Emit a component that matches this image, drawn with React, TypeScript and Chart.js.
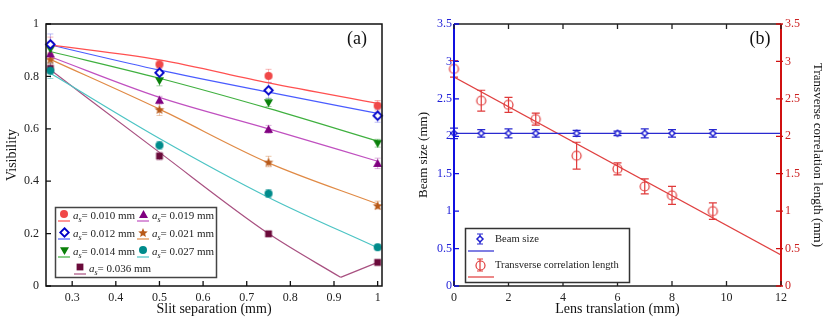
import React, { useEffect, useRef } from "react";
import { Chart, registerables } from "chart.js";
Chart.register(...registerables);

const FONT = "'Liberation Serif', 'Times New Roman', serif";

// ---------- Panel (a) data ----------
const slitX = [0.25, 0.5, 0.75, 1];
const vis010 = [0.92, 0.846, 0.802, 0.688];
const vis012 = [0.922, 0.814, 0.747, 0.65];
const vis014 = [0.905, 0.784, 0.7, 0.545];
const vis019 = [0.886, 0.709, 0.598, 0.468];
const vis021 = [0.868, 0.676, 0.475, 0.309];
const vis027 = [0.822, 0.537, 0.353, 0.148];
const vis036 = [0.831, 0.496, 0.199, 0.09];

const err010 = [0.03, 0.015, 0.025, 0.02];
const err012 = [0.04, 0.02, 0.03, 0.025];
const err014 = [0.02, 0.02, 0.015, 0.015];
const err019 = [0.02, 0.015, 0.015, 0.02];
const err021 = [0.02, 0.025, 0.02, 0.015];
const err027 = [0.03, 0.015, 0.015, 0.01];
const err036 = [0.02, 0.015, 0.01, 0.01];

const fitX = [0.25, 0.5, 0.75, 1];
const fit010 = [0.92, 0.863, 0.775, 0.697];
const fit012 = [0.92, 0.824, 0.74, 0.659];
const fit014 = [0.895, 0.793, 0.678, 0.553];
const fit019 = [0.875, 0.72, 0.6, 0.476];
const fit021 = [0.865, 0.675, 0.47, 0.313];
const fit027 = [0.812, 0.563, 0.338, 0.146];
// the 0.036 mm fit has a sharp minimum: two pieces
const fitX036a = [0.25, 0.5, 0.75, 0.915];
const fit036a = [0.825, 0.51, 0.2, 0.033];
const fitX036b = [0.915, 1];
const fit036b = [0.033, 0.09];

const asLabels = ["0.010", "0.012", "0.014", "0.019", "0.021", "0.027", "0.036"];

// ---------- Panel (b) data ----------
const lensX = [0, 1, 2, 3, 4.5, 6, 7, 8, 9.5];
const beamSize = [2.04, 2.04, 2.04, 2.04, 2.04, 2.04, 2.04, 2.04, 2.04];
const beamErr = [0.07, 0.05, 0.06, 0.05, 0.04, 0.03, 0.06, 0.05, 0.05];
const corrLen = [2.9, 2.475, 2.42, 2.23, 1.74, 1.565, 1.33, 1.21, 1.0];
const corrErr = [0.11, 0.14, 0.1, 0.08, 0.18, 0.08, 0.1, 0.12, 0.11];
const beamFitX = [0, 12];
const beamFit = [2.04, 2.04];
const corrFitX = [0, 12];
const corrFit = [2.79, 0.415];

// ---------- helpers ----------
function makeMarker(kind: string, fill: string | null, stroke: string | null, size: number, lw = 1): HTMLCanvasElement {
  const s = Math.ceil(size + 4);
  const c = document.createElement("canvas");
  c.width = s;
  c.height = s;
  const g = c.getContext("2d")!;
  const cx = s / 2, cy = s / 2, r = size / 2;
  g.beginPath();
  if (kind === "circle") g.arc(cx, cy, r, 0, Math.PI * 2);
  else if (kind === "diamond") {
    g.moveTo(cx, cy - r); g.lineTo(cx + r, cy); g.lineTo(cx, cy + r); g.lineTo(cx - r, cy); g.closePath();
  } else if (kind === "triUp") {
    g.moveTo(cx, cy - r); g.lineTo(cx + r, cy + r * 0.75); g.lineTo(cx - r, cy + r * 0.75); g.closePath();
  } else if (kind === "triDown") {
    g.moveTo(cx, cy + r); g.lineTo(cx + r, cy - r * 0.75); g.lineTo(cx - r, cy - r * 0.75); g.closePath();
  } else if (kind === "square") {
    g.rect(cx - r * 0.85, cy - r * 0.85, r * 1.7, r * 1.7);
  } else if (kind === "star") {
    for (let k = 0; k < 10; k++) {
      const ang = -Math.PI / 2 + (k * Math.PI) / 5;
      const rr = k % 2 === 0 ? r : r * 0.45;
      const px = cx + rr * Math.cos(ang), py = cy + 1 + rr * Math.sin(ang);
      if (k === 0) g.moveTo(px, py); else g.lineTo(px, py);
    }
    g.closePath();
  }
  if (fill) { g.fillStyle = fill; g.fill(); }
  if (stroke) { g.lineWidth = lw; g.strokeStyle = stroke; g.stroke(); }
  return c;
}

const fmt = (v: any) => String(Number(Number(v).toFixed(2)));

const errorBarPlugin = {
  id: "errbars",
  beforeDatasetsDraw(chart: any) {
    const ctx = chart.ctx;
    chart.data.datasets.forEach((ds: any, i: number) => {
      if (!ds.errors) return;
      const meta = chart.getDatasetMeta(i);
      const xs = chart.scales[meta.xAxisID];
      const ys = chart.scales[meta.yAxisID];
      ctx.save();
      ctx.strokeStyle = ds.errorColor;
      ctx.lineWidth = ds.errorWidth || 1;
      const cap = ds.errorCap || 3;
      ds.data.forEach((p: any, j: number) => {
        const e = ds.errors[j];
        const x = xs.getPixelForValue(p.x);
        const y1 = ys.getPixelForValue(p.y - e);
        const y2 = ys.getPixelForValue(p.y + e);
        ctx.beginPath();
        ctx.moveTo(x, y1); ctx.lineTo(x, y2);
        ctx.moveTo(x - cap, y1); ctx.lineTo(x + cap, y1);
        ctx.moveTo(x - cap, y2); ctx.lineTo(x + cap, y2);
        ctx.stroke();
      });
      ctx.restore();
    });
  },
};

function drawInwardTicks(ctx: any, scale: any, side: string, area: any, color: string, len = 5, out = 0) {
  ctx.save();
  ctx.strokeStyle = color;
  ctx.lineWidth = 1.3;
  ctx.beginPath();
  scale.ticks.forEach((t: any) => {
    const p = scale.getPixelForValue(t.value);
    if (side === "bottom") { ctx.moveTo(p, area.bottom + out); ctx.lineTo(p, area.bottom - len); }
    if (side === "top") { ctx.moveTo(p, area.top - out); ctx.lineTo(p, area.top + len); }
    if (side === "left") { ctx.moveTo(area.left - out, p); ctx.lineTo(area.left + len, p); }
    if (side === "right") { ctx.moveTo(area.right + out, p); ctx.lineTo(area.right - len, p); }
  });
  ctx.stroke();
  ctx.restore();
}

function drawAs(ctx: any, x: number, y: number, val: string) {
  ctx.fillStyle = "#222";
  ctx.textAlign = "left";
  ctx.textBaseline = "alphabetic";
  ctx.font = `italic 11px ${FONT}`;
  ctx.fillText("a", x, y + 4);
  let w = ctx.measureText("a").width;
  ctx.font = `italic 8px ${FONT}`;
  ctx.fillText("s", x + w, y + 6.5);
  w += ctx.measureText("s").width;
  ctx.font = `11px ${FONT}`;
  ctx.fillText(`= ${val} mm`, x + w, y + 4);
}

export default function App() {
  const refA = useRef<HTMLCanvasElement>(null);
  const refB = useRef<HTMLCanvasElement>(null);

  useEffect(() => {
    const lineColors = ["#ff5050", "#4a5cff", "#3fb03f", "#c050c0", "#e08a45", "#4cc4c4", "#a85080"];
    const errColors = [
      "rgba(240,90,90,0.45)", "rgba(90,90,230,0.4)", "rgba(60,160,60,0.45)", "rgba(170,60,170,0.4)",
      "rgba(210,130,70,0.45)", "rgba(40,160,160,0.45)", "rgba(150,60,110,0.4)",
    ];
    const markers = [
      makeMarker("circle", "#f04848", null, 8),
      makeMarker("diamond", "#ffffff", "#0000c8", 8.5, 1.8),
      makeMarker("triDown", "#0a800a", null, 9),
      makeMarker("triUp", "#800080", null, 9),
      makeMarker("star", "#b85a1a", null, 10),
      makeMarker("circle", "#008b8b", null, 8),
      makeMarker("square", "#6a0a3a", null, 8),
    ];
    const visData = [vis010, vis012, vis014, vis019, vis021, vis027, vis036];
    const errData = [err010, err012, err014, err019, err021, err027, err036];
    const fitSets: [number[], number[], number][] = [
      [fitX, fit010, 0], [fitX, fit012, 1], [fitX, fit014, 2], [fitX, fit019, 3],
      [fitX, fit021, 4], [fitX, fit027, 5], [fitX036a, fit036a, 6], [fitX036b, fit036b, 6],
    ];

    const dsA: any[] = [];
    fitSets.forEach(([xs, ys, ci]) => {
      dsA.push({
        label: "fit " + asLabels[ci],
        data: xs.map((x, j) => ({ x, y: ys[j] })),
        showLine: true,
        borderColor: lineColors[ci],
        borderWidth: 1.2,
        pointRadius: 0,
        cubicInterpolationMode: "monotone",
        fill: false,
        order: 3,
      });
    });
    visData.forEach((v, i) => {
      dsA.push({
        label: "as = " + asLabels[i],
        data: slitX.map((x, j) => ({ x, y: v[j] })),
        showLine: false,
        pointStyle: markers[i],
        pointRadius: 5,
        errors: errData[i],
        errorColor: errColors[i],
        errorCap: 3,
        clip: false,
        order: i === 0 ? 2 : 1,
      });
    });

    const legendA = {
      id: "legendA",
      afterDraw(chart: any) {
        const ctx = chart.ctx;
        const area = chart.chartArea;
        const xS = chart.scales.x, yS = chart.scales.y;
        ctx.save();
        ctx.strokeStyle = "#111";
        ctx.lineWidth = 1.5;
        ctx.strokeRect(area.left, area.top, area.right - area.left, area.bottom - area.top);
        ctx.restore();
        drawInwardTicks(ctx, xS, "bottom", area, "#111", 5);
        drawInwardTicks(ctx, yS, "left", area, "#111", 5);
        // legend box
        ctx.save();
        ctx.fillStyle = "#fff";
        ctx.fillRect(55.5, 207.5, 161, 70);
        ctx.strokeStyle = "#444";
        ctx.lineWidth = 1.5;
        ctx.strokeRect(55.5, 207.5, 161, 70);
        const pos = [[64, 215], [64, 233], [64, 251], [143, 215], [143, 233], [143, 251], [80, 268]];
        pos.forEach((p, i) => {
          const [mx, my] = p;
          const m = markers[i];
          ctx.drawImage(m, Math.round(mx - m.width / 2), Math.round(my - 1 - m.height / 2));
          ctx.strokeStyle = lineColors[i];
          ctx.lineWidth = 1.2;
          ctx.beginPath();
          ctx.moveTo(mx - 6, my + 6);
          ctx.lineTo(mx + 6, my + 6);
          ctx.stroke();
          drawAs(ctx, mx + 9, my, asLabels[i]);
        });
        ctx.fillStyle = "#111";
        ctx.font = `18px ${FONT}`;
        ctx.textAlign = "center";
        ctx.textBaseline = "middle";
        ctx.fillText("(a)", 357, 39);
        ctx.restore();
      },
    };

    const chartA = new Chart(refA.current!, {
      type: "scatter",
      data: { datasets: dsA },
      options: {
        responsive: false,
        animation: false,
        layout: { padding: { top: 24, right: 33, left: 0, bottom: 0 } },
        plugins: { legend: { display: false }, tooltip: { enabled: false } },
        scales: {
          x: {
            type: "linear",
            min: 0.24,
            max: 1.01,
            grid: { display: false, drawTicks: false },
            border: { display: false },
            ticks: { stepSize: 0.1, includeBounds: false, padding: 5, color: "#222", font: { size: 12, family: FONT }, callback: fmt },
            title: { display: true, text: "Slit separation (mm)", color: "#111", font: { size: 14, family: FONT }, padding: { top: 0, bottom: 8 } },
            afterFit: (s: any) => { s.height = 40; },
          },
          y: {
            type: "linear",
            min: 0,
            max: 1,
            grid: { display: false, drawTicks: false },
            border: { display: false },
            ticks: { stepSize: 0.2, padding: 7, color: "#222", font: { size: 12, family: FONT }, callback: fmt },
            title: { display: true, text: "Visibility", color: "#111", font: { size: 14, family: FONT }, padding: { top: 4, bottom: 0 } },
            afterFit: (s: any) => { s.width = 46; },
          },
        },
      } as any,
      plugins: [errorBarPlugin, legendA],
    });

    // ---------- Panel (b) ----------
    const blueMarker = makeMarker("diamond", "#ffffff", "#2020d0", 6, 1.5);
    const redMarker = makeMarker("circle", null, "#e03a3a", 9, 1.2);
    const dsB: any[] = [
      {
        label: "Beam size fit",
        data: beamFitX.map((x, j) => ({ x, y: beamFit[j] })),
        showLine: true,
        borderColor: "#2a2ad0",
        borderWidth: 1.2,
        pointRadius: 0,
        yAxisID: "y",
        order: 2,
      },
      {
        label: "Transverse fit",
        data: corrFitX.map((x, j) => ({ x, y: corrFit[j] })),
        showLine: true,
        borderColor: "#e04040",
        borderWidth: 1.2,
        pointRadius: 0,
        yAxisID: "y2",
        order: 2,
      },
      {
        label: "Beam size",
        data: lensX.map((x, j) => ({ x, y: beamSize[j] })),
        showLine: false,
        pointStyle: blueMarker,
        pointRadius: 4,
        errors: beamErr,
        errorColor: "#2a2ad0",
        errorWidth: 1.3,
        errorCap: 4,
        yAxisID: "y",
        clip: false,
        order: 1,
      },
      {
        label: "Transverse correlation length",
        data: lensX.map((x, j) => ({ x, y: corrLen[j] })),
        showLine: false,
        pointStyle: redMarker,
        pointRadius: 5,
        errors: corrErr,
        errorColor: "#e03a3a",
        errorWidth: 1.2,
        errorCap: 4,
        yAxisID: "y2",
        clip: false,
        order: 1,
      },
    ];

    const legendB = {
      id: "legendB",
      afterDraw(chart: any) {
        const ctx = chart.ctx;
        const area = chart.chartArea;
        ctx.save();
        ctx.lineWidth = 1.5;
        ctx.strokeStyle = "#222";
        ctx.beginPath();
        ctx.moveTo(area.left, area.top); ctx.lineTo(area.right, area.top);
        ctx.moveTo(area.left, area.bottom); ctx.lineTo(area.right, area.bottom);
        ctx.stroke();
        ctx.lineWidth = 2;
        ctx.strokeStyle = "#1010e0";
        ctx.beginPath(); ctx.moveTo(area.left, area.top); ctx.lineTo(area.left, area.bottom); ctx.stroke();
        ctx.strokeStyle = "#d01010";
        ctx.beginPath(); ctx.moveTo(area.right, area.top); ctx.lineTo(area.right, area.bottom); ctx.stroke();
        ctx.restore();
        drawInwardTicks(ctx, chart.scales.x, "bottom", area, "#222", 5);
        drawInwardTicks(ctx, chart.scales.x, "top", area, "#222", 5);
        drawInwardTicks(ctx, chart.scales.y, "left", area, "#1010e0", 5);
        drawInwardTicks(ctx, chart.scales.y2, "right", area, "#d01010", 5, 2);

        ctx.save();
        ctx.fillStyle = "#fff";
        ctx.fillRect(50.5, 228.5, 164, 54);
        ctx.strokeStyle = "#333";
        ctx.lineWidth = 1.5;
        ctx.strokeRect(50.5, 228.5, 164, 54);
        const entries = [
          { y: 239, color: "#2a2ad0", m: blueMarker, text: "Beam size", e: 5 },
          { y: 265, color: "#e03a3a", m: redMarker, text: "Transverse correlation length", e: 6 },
        ];
        entries.forEach((en) => {
          const mx = 65;
          ctx.strokeStyle = en.color;
          ctx.lineWidth = 1.2;
          ctx.beginPath();
          ctx.moveTo(mx, en.y - en.e); ctx.lineTo(mx, en.y + en.e);
          ctx.moveTo(mx - 3, en.y - en.e); ctx.lineTo(mx + 3, en.y - en.e);
          ctx.moveTo(mx - 3, en.y + en.e); ctx.lineTo(mx + 3, en.y + en.e);
          ctx.stroke();
          ctx.drawImage(en.m, Math.round(mx - en.m.width / 2), Math.round(en.y - en.m.height / 2));
          ctx.beginPath();
          ctx.moveTo(53, en.y + 12); ctx.lineTo(79, en.y + 12);
          ctx.stroke();
          ctx.fillStyle = "#222";
          ctx.font = `10.6px ${FONT}`;
          ctx.textAlign = "left";
          ctx.textBaseline = "middle";
          ctx.fillText(en.text, 80, en.y);
        });
        ctx.fillStyle = "#111";
        ctx.font = `18px ${FONT}`;
        ctx.textAlign = "center";
        ctx.textBaseline = "middle";
        ctx.fillText("(b)", 345, 39);
        ctx.restore();
      },
    };

    const chartB = new Chart(refB.current!, {
      type: "scatter",
      data: { datasets: dsB },
      options: {
        responsive: false,
        animation: false,
        layout: { padding: { top: 24, right: 0, left: 0, bottom: 0 } },
        plugins: { legend: { display: false }, tooltip: { enabled: false } },
        scales: {
          x: {
            type: "linear",
            min: 0,
            max: 12,
            grid: { display: false, drawTicks: false },
            border: { display: false },
            ticks: { stepSize: 2, padding: 5, color: "#222", font: { size: 12, family: FONT }, callback: fmt },
            title: { display: true, text: "Lens translation (mm)", color: "#111", font: { size: 14, family: FONT }, padding: { top: 0, bottom: 8 } },
            afterFit: (s: any) => { s.height = 40; },
          },
          y: {
            type: "linear",
            position: "left",
            min: 0,
            max: 3.5,
            grid: { display: false, drawTicks: false },
            border: { display: false },
            ticks: { stepSize: 0.5, padding: 2, color: "#2020d8", font: { size: 12, family: FONT }, callback: fmt },
            title: { display: true, text: "Beam size (mm)", color: "#111", font: { size: 13, family: FONT }, padding: { top: 1, bottom: 0 } },
            afterFit: (s: any) => { s.width = 39; },
          },
          y2: {
            type: "linear",
            position: "right",
            min: 0,
            max: 3.5,
            grid: { display: false, drawTicks: false },
            border: { display: false },
            ticks: { stepSize: 0.5, padding: 4, color: "#cc2020", font: { size: 12, family: FONT }, callback: fmt },
            title: { display: true, text: "Transverse correlation length (mm)", color: "#111", font: { size: 13, family: FONT }, padding: { top: 5, bottom: 0 } },
            afterFit: (s: any) => { s.width = 49; },
          },
        },
      } as any,
      plugins: [errorBarPlugin, legendB],
    });

    return () => {
      chartA.destroy();
      chartB.destroy();
    };
  }, []);

  return (
    <div style={{ position: "fixed", left: 0, top: 0, width: 830, height: 326, background: "#fff" }}>
      <canvas ref={refA} width={415} height={326} style={{ position: "absolute", left: 0, top: 0, width: 415, height: 326 }} />
      <canvas ref={refB} width={415} height={326} style={{ position: "absolute", left: 415, top: 0, width: 415, height: 326 }} />
    </div>
  );
}
